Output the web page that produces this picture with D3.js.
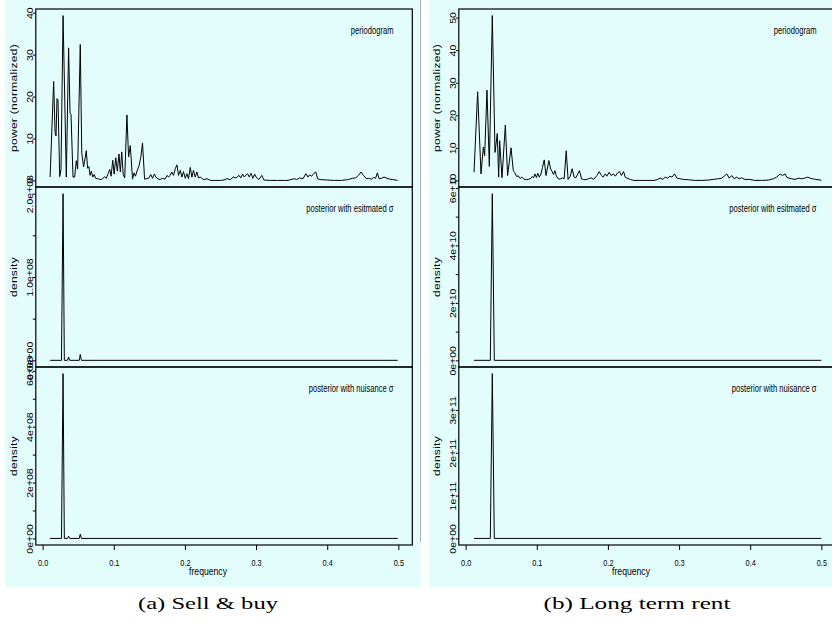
<!DOCTYPE html>
<html>
<head>
<meta charset="utf-8">
<script src="https://cdn.jsdelivr.net/npm/d3@7"></script>
<style>
  body { margin: 0; background: #fff; }
  svg { display: block; }
  text { font-family: "Liberation Sans", Arial, sans-serif; fill: #000; }
  .cap { font-family: "Liberation Serif", "DejaVu Serif", serif; }
</style>
</head>
<body>
<div id="chart"></div>
<script>
// ---- data: [frequency, value] ----
const periodogramSell = [
  [0.0105,0.8],[0.0155,23.6],[0.0175,11.4],[0.0188,10.6],[0.0202,19.5],[0.0216,19.2],[0.0240,0.9],[0.0258,2.5],
  [0.0287,39.3],[0.0333,0.8],[0.0365,31.6],[0.0385,16.1],[0.0399,15.7],[0.0427,0.8],[0.0450,0.8],[0.0473,4.7],
  [0.0492,2.7],[0.0529,32.4],[0.0550,6.5],[0.0576,3.2],[0.0614,7.1],[0.0632,2.9],[0.0650,3.3],[0.0668,1.2],
  [0.0685,2.2],[0.0705,0.8],[0.0725,1.4],[0.0745,0.5],[0.0770,0.4],[0.0795,0.3],[0.0820,0.2],[0.0845,0.4],
  [0.0870,0.9],[0.0895,0.5],[0.0920,1.6],[0.0944,2.6],[0.0962,1.0],[0.0986,4.8],[0.1005,1.5],[0.1028,5.4],
  [0.1050,2.2],[0.1073,6.3],[0.1092,2.0],[0.1112,6.8],[0.1132,1.4],[0.1154,0.6],[0.1185,15.6],[0.1208,5.6],
  [0.1232,8.3],[0.1264,0.3],[0.1285,1.8],[0.1305,1.0],[0.1330,2.4],[0.1355,3.5],[0.1380,5.5],[0.1404,8.9],
  [0.1433,0.3],[0.1460,0.4],[0.1490,0.5],[0.1520,1.4],[0.1545,0.5],[0.1570,1.5],[0.1595,0.7],[0.1630,0.3],
  [0.1653,0.2],[0.1680,0.5],[0.1700,0.4],[0.1720,0.3],[0.1750,1.2],[0.1770,0.8],[0.1794,1.2],[0.1815,2.0],
  [0.1840,1.2],[0.1865,2.8],[0.1888,3.7],[0.1910,1.2],[0.1935,2.4],[0.1958,0.8],[0.1980,2.1],[0.2005,0.5],
  [0.2028,1.6],[0.2050,0.4],[0.2075,3.1],[0.2098,0.8],[0.2120,2.4],[0.2145,0.8],[0.2168,2.0],[0.2190,0.6],
  [0.2215,0.8],[0.2262,0.2],[0.2310,0.4],[0.2360,0.0],[0.2420,0.0],[0.2500,0.0],[0.2550,0.1],[0.2590,0.4],
  [0.2640,0.2],[0.2680,0.8],[0.2720,0.6],[0.2760,1.2],[0.2785,0.6],[0.2810,1.5],[0.2835,0.8],[0.2860,1.3],
  [0.2880,1.6],[0.2905,0.8],[0.2930,1.7],[0.2955,0.5],[0.2980,1.5],[0.3000,0.8],[0.3040,0.2],[0.3080,1.2],
  [0.3110,0.1],[0.3200,0.0],[0.3300,0.0],[0.3400,0.0],[0.3450,0.0],[0.3490,0.2],[0.3540,0.4],[0.3570,0.2],
  [0.3610,0.6],[0.3660,0.4],[0.3700,1.6],[0.3730,0.8],[0.3750,1.3],[0.3780,1.0],[0.3810,1.6],[0.3840,2.0],
  [0.3865,0.4],[0.3900,0.2],[0.3990,0.1],[0.4100,0.0],[0.4200,0.0],[0.4300,0.2],[0.4350,0.5],[0.4400,0.6],
  [0.4440,1.2],[0.4476,2.0],[0.4510,1.2],[0.4550,0.4],[0.4580,0.5],[0.4620,0.3],[0.4650,0.7],[0.4680,0.5],
  [0.4705,1.8],[0.4730,0.4],[0.4760,0.5],[0.4800,0.8],[0.4840,0.5],[0.4880,0.3],[0.4920,0.2],[0.4990,0.0]
];
const postEstSell = [
  [0.0105,0],[0.0265,0],[0.0287,2.0e8],[0.0305,0],[0.0350,0],[0.0365,4e6],[0.0380,0],
  [0.0515,0],[0.0529,7e6],[0.0545,0],[0.4990,0]
];
const postNuiSell = [
  [0.0105,0],[0.0265,0],[0.0287,5.9e8],[0.0305,0],[0.0350,0],[0.0365,8e6],[0.0380,0],
  [0.0515,0],[0.0529,1.5e7],[0.0545,0],[0.4990,0]
];

const periodogramRent = [
  [0.0118,2.5],[0.0169,27.2],[0.0216,2.0],[0.0249,10.2],[0.0267,7.6],[0.0300,27.7],[0.0333,4.3],[0.0375,50.6],
  [0.0413,8.6],[0.0445,14.4],[0.0464,1.0],[0.0478,12.2],[0.0511,0.8],[0.0558,17.0],[0.0590,1.5],[0.0638,10.0],
  [0.0670,3.0],[0.0690,2.4],[0.0716,1.2],[0.0740,1.4],[0.0765,0.6],[0.0790,1.0],[0.0820,0.4],[0.0857,0.2],
  [0.0890,0.4],[0.0915,0.6],[0.0937,1.2],[0.0955,0.8],[0.0975,2.0],[0.0995,0.9],[0.1015,2.2],[0.1035,1.0],
  [0.1060,2.0],[0.1080,4.0],[0.1105,6.3],[0.1130,1.5],[0.1170,6.1],[0.1195,3.5],[0.1215,2.8],[0.1235,1.8],
  [0.1255,3.0],[0.1275,1.4],[0.1300,0.5],[0.1330,0.4],[0.1360,0.8],[0.1385,0.5],[0.1414,9.1],[0.1440,0.3],
  [0.1470,1.2],[0.1497,3.6],[0.1525,1.0],[0.1550,0.8],[0.1600,3.0],[0.1630,0.4],[0.1660,0.3],[0.1680,0.2],
  [0.1727,0.5],[0.1765,0.8],[0.1800,0.3],[0.1845,1.5],[0.1878,2.7],[0.1910,1.5],[0.1930,1.0],[0.1962,2.0],
  [0.1985,1.3],[0.2018,2.5],[0.2045,1.5],[0.2080,2.0],[0.2105,1.3],[0.2135,2.3],[0.2163,2.7],[0.2190,1.5],
  [0.2220,2.7],[0.2243,1.0],[0.2268,0.7],[0.2315,0.3],[0.2365,0.0],[0.2450,0.0],[0.2550,0.0],[0.2650,0.0],
  [0.2690,0.2],[0.2735,0.7],[0.2770,0.3],[0.2805,1.0],[0.2840,0.7],[0.2870,1.3],[0.2900,1.0],[0.2936,2.0],
  [0.2970,0.7],[0.3015,0.5],[0.3060,0.3],[0.3130,0.2],[0.3220,0.0],[0.3320,0.0],[0.3410,0.1],[0.3480,0.3],
  [0.3550,0.5],[0.3600,0.7],[0.3635,1.3],[0.3671,2.0],[0.3705,0.7],[0.3740,1.5],[0.3775,0.5],[0.3810,1.0],
  [0.3845,0.5],[0.3880,0.8],[0.3925,0.3],[0.3995,0.3],[0.4065,0.0],[0.4160,0.0],[0.4255,0.1],[0.4325,0.5],
  [0.4372,1.0],[0.4420,2.0],[0.4452,1.5],[0.4490,2.0],[0.4513,1.0],[0.4545,0.7],[0.4585,0.5],[0.4630,0.3],
  [0.4675,0.7],[0.4720,0.5],[0.4765,0.7],[0.4809,1.0],[0.4840,0.7],[0.4875,0.5],[0.4920,0.3],[0.4965,0.2],
  [0.5000,0.0]
];
const postEstRent = [[0.0118,0],[0.0347,0],[0.0375,5.8e10],[0.0403,0],[0.5000,0]];
const postNuiRent = [[0.0118,0],[0.0347,0],[0.0375,3.85e11],[0.0403,0],[0.5000,0]];

// ---- tick values and labels ----
const xTicks = [0, 0.1, 0.2, 0.3, 0.4, 0.5];
const xTickLabels = ["0.0", "0.1", "0.2", "0.3", "0.4", "0.5"];

const topTicksSell = [0, 10, 20, 30, 40];
const topLabelsSell = ["0", "10", "20", "30", "40"];
const midTicksSell = [0, 5e7, 1e8, 1.5e8, 2e8];
const midLabelsSell = ["0.0e+00", "", "1.0e+08", "", "2.0e+08"];
const botTicksSell = [0, 1e8, 2e8, 3e8, 4e8, 5e8, 6e8];
const botLabelsSell = ["0e+00", "", "2e+08", "", "4e+08", "", "6e+08"];

const topTicksRent = [0, 10, 20, 30, 40, 50];
const topLabelsRent = ["0", "10", "20", "30", "40", "50"];
const midTicksRent = [0, 1e10, 2e10, 3e10, 4e10, 5e10, 6e10];
const midLabelsRent = ["0e+00", "", "2e+10", "", "4e+10", "", "6e+10"];
const botTicksRent = [0, 1e11, 2e11, 3e11];
const botLabelsRent = ["0e+00", "1e+11", "2e+11", "3e+11"];

const rowTitles = ["power (normalized)", "density", "density"];
const rowNotes = ["periodogram", "posterior with esitmated \u03c3", "posterior with nuisance \u03c3"];
const captions = ["(a) Sell & buy", "(b) Long term rent"];

// ---- layout ----
const W = 832, H = 630;
const rows = [[9, 187], [187, 367], [367, 545]];
const frameX = [35.8, 412.3];

const svg = d3.select("#chart").append("svg")
    .attr("width", W)
    .attr("height", H);

// panel backgrounds
svg.append("rect").attr("x", 5).attr("y", 0).attr("width", 416).attr("height", 587).attr("fill", "#e3fdfd");
svg.append("rect").attr("x", 429).attr("y", 0).attr("width", 403).attr("height", 587).attr("fill", "#e3fdfd");
svg.append("line").attr("x1", 420.5).attr("x2", 420.5).attr("y1", 0).attr("y2", 542)
    .attr("stroke", "#a9b3b3").attr("stroke-width", 1);

const panels = [
  {
    dx: 0, capX: 208, capW: 140, caption: captions[0],
    series: [periodogramSell, postEstSell, postNuiSell],
    ticks: [topTicksSell, midTicksSell, botTicksSell],
    labels: [topLabelsSell, midLabelsSell, botLabelsSell]
  },
  {
    dx: 423, capX: 637, capW: 187, caption: captions[1],
    series: [periodogramRent, postEstRent, postNuiRent],
    ticks: [topTicksRent, midTicksRent, botTicksRent],
    labels: [topLabelsRent, midLabelsRent, botLabelsRent]
  }
];

const drawPanel = (p) => {
    const g = svg.append("g").attr("transform", `translate(${p.dx},0)`);

    // R style x range (4% padding around 0.01..0.5)
    const x = d3.scaleLinear()
        .domain([0.01 - 0.04 * 0.49, 0.5 + 0.04 * 0.49])
        .range(frameX);

    p.series.forEach((data, i) => {
        const [top, bottom] = rows[i];
        const [lo, hi] = d3.extent(data, d => d[1]);
        const pad = 0.04 * (hi - lo);
        const y = d3.scaleLinear()
            .domain([lo - pad, hi + pad])
            .range([bottom, top]);

        const line = d3.line()
            .x(d => x(d[0]))
            .y(d => y(d[1]));

        g.append("path")
            .datum(data)
            .attr("d", line)
            .attr("fill", "none")
            .attr("stroke", "#000")
            .attr("stroke-width", 1)
            .attr("stroke-linejoin", "round");

        // y axis
        const ya = g.append("g")
            .attr("transform", `translate(${frameX[0]},0)`)
            .call(d3.axisLeft(y)
                .tickValues(p.ticks[i])
                .tickFormat((d, k) => p.labels[i][k])
                .tickSize(3)
                .tickSizeOuter(0));
        ya.select(".domain").remove();
        ya.selectAll(".tick line").attr("stroke", "#000");
        ya.selectAll(".tick text")
            .attr("x", null).attr("dy", null)
            .attr("text-anchor", "middle")
            .attr("font-size", 10.5)
            .attr("font-family", null)
            .attr("transform", "translate(-2.6,0) rotate(-90) scale(1,0.82)");

        // y title
        g.append("text")
            .attr("transform", `translate(17,${(top + bottom) / 2}) rotate(-90) scale(1,0.75)`)
            .attr("text-anchor", "middle")
            .attr("font-size", 12)
            .attr("letter-spacing", 0.3)
            .text(rowTitles[i]);

        // note in the corner
        g.append("text")
            .attr("transform", `translate(${frameX[1] - 18.8},${top + 25}) scale(0.74,1)`)
            .attr("text-anchor", "end")
            .attr("font-size", 10.3)
            .text(rowNotes[i]);

        // frame
        g.append("rect")
            .attr("x", frameX[0]).attr("y", top)
            .attr("width", frameX[1] - frameX[0]).attr("height", bottom - top)
            .attr("fill", "none")
            .attr("stroke", "#000")
            .attr("stroke-width", 1.2);
    });

    // x axis under the last row
    const xa = g.append("g")
        .attr("transform", `translate(0,${rows[2][1]})`)
        .call(d3.axisBottom(x)
            .tickValues(xTicks)
            .tickFormat((d, k) => xTickLabels[k])
            .tickSize(5)
            .tickSizeOuter(0));
    xa.select(".domain").remove();
    xa.selectAll(".tick line").attr("stroke", "#000");
    xa.selectAll(".tick text")
        .attr("y", null).attr("dy", null)
        .attr("font-size", 9.8)
        .attr("font-family", null)
        .attr("transform", "translate(0,20.5) scale(0.75,1)");

    g.append("text")
        .attr("transform", `translate(208,574.5) scale(0.8,1)`)
        .attr("text-anchor", "middle")
        .attr("font-size", 10.8)
        .text("frequency");

    // caption under the panel
    svg.append("text")
        .attr("class", "cap")
        .attr("x", p.capX)
        .attr("y", 609)
        .attr("text-anchor", "middle")
        .attr("font-size", 17)
        .attr("textLength", p.capW)
        .attr("lengthAdjust", "spacingAndGlyphs")
        .text(p.caption);
};

panels.forEach(drawPanel);
</script>
</body>
</html>
